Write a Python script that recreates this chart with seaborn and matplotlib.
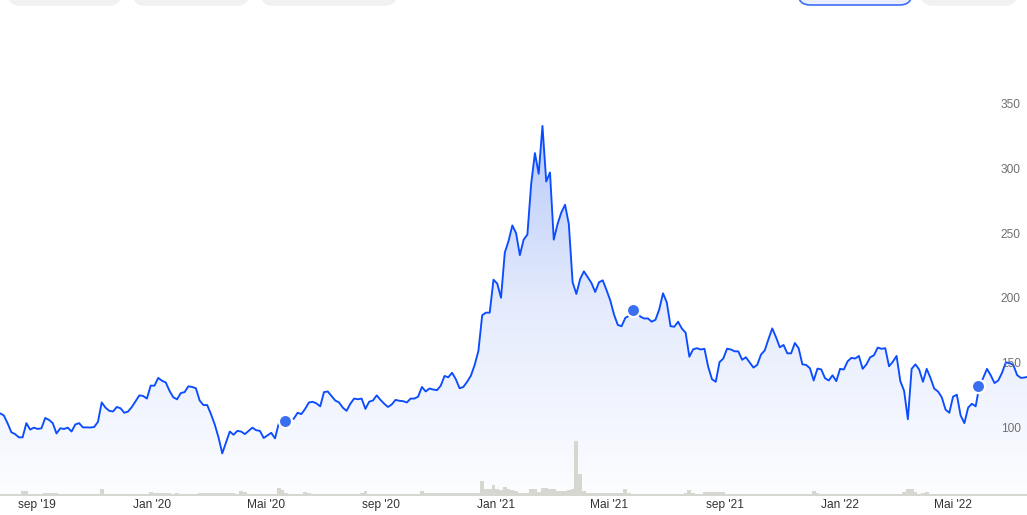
import numpy as np
import pandas as pd
import matplotlib
matplotlib.use("Agg")
import matplotlib.pyplot as plt
import matplotlib.dates as mdates
from matplotlib.colors import LinearSegmentedColormap
from matplotlib.patches import FancyBboxPatch
import seaborn as sns

# ---------------- data ----------------
start_date = "2019-07-24"
step_days = 4

price = [
    110.6, 109, 103, 96, 94.5, 92, 92, 103, 98, 99.5,
    98.5, 99, 107, 105.5, 103, 95, 99, 98.5, 99.5, 96.5,
    102, 103, 99.7, 99.7, 99.6, 100, 104, 119, 115, 112.5,
    112, 115.5, 114.5, 111, 112, 115.5, 120, 124.5, 124, 122,
    132, 132, 138, 135.8, 134.5, 128, 123, 121.4, 126.3, 127,
    131.5, 131, 130, 120.5, 117, 117, 110, 102, 92, 79.6,
    88, 96.5, 94, 97, 96.5, 94.5, 97, 99.5, 97.5, 97,
    91.5, 93.5, 95.5, 91.2, 102.8, 104, 104.3, 105, 106.5, 111,
    110, 114, 119, 119.5, 118.3, 116, 127, 127.5, 124, 120.5,
    119, 115, 112.5, 118, 122, 121.5, 122, 114, 119.6, 120.5,
    124.5, 121, 118, 115.5, 117.5, 121, 120.3, 120, 119, 122,
    122, 123.5, 131, 127.5, 129.8, 129, 128.5, 132, 139.5, 138.5,
    142, 137, 130, 131, 135, 139.7, 148, 159, 186.5, 188.5,
    188.5, 214, 211, 200, 235, 244, 256, 250, 233, 245,
    249, 288, 312, 296, 333, 290, 297, 245, 257, 266,
    272, 257, 212, 203, 214.5, 220.5, 216, 211.5, 204.5, 212,
    213.5, 206, 198, 187, 179, 178, 184.5, 186, 188, 189,
    185.4, 184, 184, 181.5, 183, 191, 203.5, 196.5, 178, 177.6,
    181.5, 176.2, 173, 154.4, 160.1, 161, 160, 160.5, 146.5, 137,
    135, 150.2, 153, 160.6, 160, 158.6, 158.5, 152, 154, 150,
    146, 148, 156, 159.3, 168, 176.3, 169.5, 161.7, 163.5, 157,
    157, 165, 161, 148.5, 148, 145.5, 136, 145.2, 144.6, 137.8,
    136, 140, 135.5, 145, 144.5, 150.8, 153.5, 153, 155, 145,
    148.5, 154, 155.5, 161.5, 160.5, 161, 147, 150.5, 155, 135.5,
    128, 106, 145, 148.5, 144.5, 135, 145, 138, 129.7, 127.5,
    123, 113.5, 111, 123.5, 125, 109, 103, 115, 118, 116,
    132, 138, 145, 140, 134, 136, 142, 150, 149.5, 148,
    140.2, 138, 138.3, 139,
]

volume = [
    2, 2, 2, 1.5, 2,
    2, 5.5, 5,
    2, 2, 2, 2, 2.7, 2.7,
    2.7, 2.7, 1.7, 1.7, 1.7, 1.7, 1.7, 1.7, 1.7, 1.7, 1.7, 2,
    2, 6.7, 2.5,
    1.7, 1.7, 1.7, 1.7, 2.3, 2.3, 2.3, 2.3, 2.3, 2.3, 2.3,
    4, 3,
    2.7, 2.7, 2.7, 2.7,
    2.3, 2.7, 2.3, 2.3, 2.3, 2, 2,
    3.3, 3.3, 3.3, 3.3, 3.3, 3.3, 3.3, 3.3, 3.3,
    3, 2.5, 4.7, 4,
    2, 2, 2, 2, 2, 2, 2, 2,
    8.3, 6, 3.5,
    2.5, 2.5, 2.5, 2.5,
    4, 3,
    2, 2, 2, 2, 2, 2, 2, 2, 2, 2, 2, 2, 2,
    3, 5, 2.5,
    2, 2, 2, 2, 2, 2, 2, 2, 2, 2, 2, 2,
    2.5, 4.7, 3,
    2.7, 2.7, 2.7, 2.7, 2.7, 2.7, 2.7, 2.7, 2.7, 2.7, 2.7, 2.7, 2.7,
    3.5, 15, 6.7, 6.7, 10.7, 7, 6, 9.3,
    6.7, 6, 5, 3.5, 3.5, 3.5,
    7.3, 7.3, 4.5, 8.3, 8, 6.7, 7.3, 5,
    5, 5, 6, 6.7, 55, 22, 5,
    3.3, 3.3, 3.3, 3.3, 3.3, 3.3, 3.3, 3.3, 3.3, 3.3,
    6.7, 3,
    2.3, 2.3, 2.3, 2.3, 2.3, 2.3, 2.3, 2.3, 2.3, 2.3, 2.3, 2.3, 2.3, 2.3,
    3, 5.7, 3,
    2.3, 2.3,
    4, 4, 4, 4, 4, 4,
    2, 2, 2, 2, 2, 2, 2, 2, 2, 2, 2, 2, 2, 2, 2, 2, 2, 2, 2, 2, 2, 2, 2,
    4.7, 3,
    2, 2, 2, 2, 2, 2, 2, 2, 2, 2, 2, 2, 2, 2, 2, 2, 2, 2, 2, 2, 2, 2,
    4, 7.3, 7, 4,
    2, 3, 4.3, 2.5,
    2, 2, 2, 2, 2, 2, 2, 2, 2, 2, 2, 2, 2, 2, 2, 2, 2, 2, 2,
    1.2, 1.2, 1.2, 1.2, 1.2, 1.2, 1.2,
]

event_dates = ["2020-05-22", "2021-05-26", "2022-05-27"]
event_prices = [104.3, 190.6, 131.7]

tick_dates = ["2019-09-01", "2020-01-01", "2020-05-01", "2020-09-01", "2021-01-01",
              "2021-05-01", "2021-09-01", "2022-01-01", "2022-05-01"]
tick_labels = ["sep '19", "Jan '20", "Mai '20", "sep '20", "Jan '21",
               "Mai '21", "sep '21", "Jan '22", "Mai '22"]
y_ticks = [100, 150, 200, 250, 300, 350]

# ---------------- figure ----------------
dates = pd.date_range(start_date, periods=len(price), freq=f"{step_days}D")
df = pd.DataFrame({"date": dates, "price": price, "volume": volume})
ev = pd.DataFrame({"date": pd.to_datetime(event_dates), "price": event_prices})

sns.set_theme(style="white")
plt.rcParams["font.family"] = ["Liberation Sans", "DejaVu Sans"]

W, H = 1027, 515
fig = plt.figure(figsize=(W / 100, H / 100), dpi=100)
fig.patch.set_facecolor("white")
ax = fig.add_axes([0, 19 / H, 1, 476 / H])
ax.set_facecolor("white")

xn = mdates.date2num(df["date"])
ymin, ymax = 46.6, 415.0
x_lo = mdates.date2num(pd.Timestamp("2019-07-24"))
x_hi = mdates.date2num(pd.Timestamp("2022-07-18 12:00"))

# gradient area under the line
cmap = LinearSegmentedColormap.from_list("g", ["#fcfdff", "#e6ecfd", "#b8caf9"])
grad = np.linspace(0, 1, 256).reshape(-1, 1)
im = ax.imshow(grad, extent=[xn[0], xn[-1], ymin, max(price)], origin="lower",
               aspect="auto", cmap=cmap, zorder=1, interpolation="bicubic")
poly = ax.fill_between(xn, df["price"], ymin, facecolor="none", edgecolor="none")
im.set_clip_path(poly.get_paths()[0], transform=ax.transData)

sns.lineplot(data=df, x="date", y="price", ax=ax, color="#0b4cff",
             linewidth=1.35, zorder=3)
sns.scatterplot(data=ev, x="date", y="price", ax=ax, s=90, color="#3a6ff2",
                edgecolor="white", linewidth=1.6, zorder=4)

# volume bars on a twin axis
ax2 = ax.twinx()
ax2.bar(xn, df["volume"], width=step_days, color="#d7d7d2", align="center",
        linewidth=0, zorder=2)
ax2.axhline(0.7, color="#d7d7d2", linewidth=1.4)
ax2.set_ylim(0, 476)
ax2.set_xlim(x_lo, x_hi)
ax2.axis("off")

ax.set_axisbelow(False)
ax.set_xlim(x_lo, x_hi)
ax.set_ylim(ymin, ymax)
ax.set_xlabel("")
ax.set_ylabel("")
ax.set_xticks(mdates.date2num(pd.to_datetime(tick_dates)))
ax.set_xticklabels(tick_labels)
ax.tick_params(axis="x", length=0, pad=2.5, labelsize=8.6, labelcolor="#333333")
ax.yaxis.tick_right()
ax.yaxis.set_label_position("right")
ax.set_yticks(y_ticks)
ax.set_yticklabels([str(v) for v in y_ticks])
ax.tick_params(axis="y", which="both", left=False, right=False,
               labelleft=False, labelright=True,
               length=0, pad=-19, labelsize=8.6, labelcolor="#707070")
ax.yaxis.set_zorder(5)
ax.xaxis.set_zorder(5)
for s in ax.spines.values():
    s.set_visible(False)
ax.grid(False)

# clipped control buttons at the top
def pill(x0, x1, face, edge=None):
    p = FancyBboxPatch((x0 / W, 1 - 5 / H), (x1 - x0) / W, 30 / H,
                       boxstyle="round,pad=0,rounding_size=0.012",
                       transform=fig.transFigure, facecolor=face,
                       edgecolor=edge if edge else face, linewidth=1.2,
                       mutation_aspect=W / H)
    fig.patches.append(p)

pill(8, 121, "#f1f1f1")
pill(133, 249, "#f1f1f1")
pill(261, 397, "#f1f1f1")
pill(798, 912, "#e9efff", "#3d6ef5")
pill(921, 1017, "#f1f1f1")

fig.savefig("out.png", dpi=100, facecolor="white")
